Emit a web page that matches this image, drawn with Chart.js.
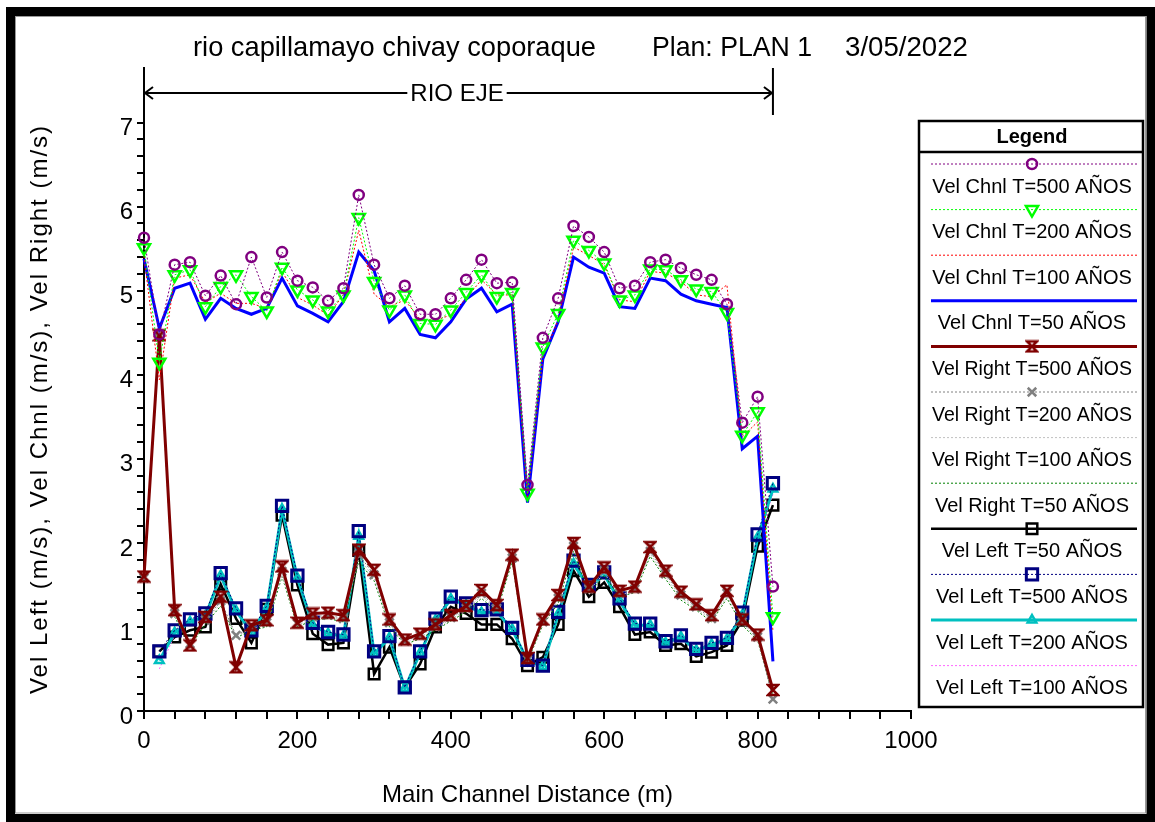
<!DOCTYPE html>
<html>
<head>
<meta charset="utf-8">
<title>Velocity profile</title>
<script src="https://cdn.jsdelivr.net/npm/chart.js"></script>
<style>
  html, body { margin: 0; padding: 0; background: #fff; }
  #wrap { width: 1155px; height: 822px; }
</style>
</head>
<body>
<div id="wrap"><canvas id="velChart" width="1155" height="822"></canvas></div>
<script>
// Main channel stations (m)
const stations = [0, 20, 40, 60, 80, 100, 120, 140, 160, 180, 200, 220, 240, 260, 280, 300, 320, 340, 360, 380, 400,
    420, 440, 460, 480, 500, 520, 540, 560, 580, 600, 620, 640, 660, 680, 700, 720, 740, 760, 780, 800, 820];

// Channel velocities (m/s)
const chnl500 = [5.63, 4.48, 5.31, 5.34, 4.94, 5.18, 4.84, 5.40, 4.92, 5.46, 5.12, 5.04, 4.88, 5.03, 6.14, 5.31, 4.91, 5.06, 4.72, 4.72, 4.91,
    5.13, 5.37, 5.09, 5.10, 2.69, 4.44, 4.91, 5.77, 5.64, 5.46, 5.03, 5.06, 5.34, 5.37, 5.27, 5.19, 5.13, 4.84, 3.43, 3.74, 1.48];
const chnl200 = [5.51, 4.15, 5.19, 5.25, 4.81, 5.05, 5.19, 4.93, 4.76, 5.28, 5.01, 4.89, 4.76, 4.95, 5.87, 5.11, 4.77, 4.95, 4.61, 4.60, 4.77,
    4.98, 5.19, 4.93, 4.98, 2.59, 4.33, 4.73, 5.60, 5.48, 5.33, 4.89, 4.95, 5.26, 5.25, 5.13, 5.02, 4.99, 4.74, 3.28, 3.56, 1.12];
const chnl100 = [5.41, 3.94, 5.15, 5.19, 4.86, 4.97, 4.85, 4.85, 4.79, 5.23, 4.92, 4.83, 4.71, 4.95, 5.72, 4.96, 4.81, 4.89, 4.66, 4.65, 4.71,
    4.91, 5.13, 4.95, 4.95, 2.55, 4.21, 4.65, 5.52, 5.42, 5.31, 4.89, 4.87, 5.23, 5.21, 5.11, 4.95, 4.93, 5.07, 3.26, 3.44, 0.95];
const chnl50 = [5.38, 4.55, 5.03, 5.09, 4.66, 4.91, 4.79, 4.72, 4.79, 5.15, 4.82, 4.73, 4.63, 4.87, 5.46, 5.24, 4.63, 4.79, 4.48, 4.44, 4.63,
    4.90, 5.03, 4.75, 4.84, 2.48, 4.19, 4.63, 5.40, 5.28, 5.21, 4.81, 4.79, 5.15, 5.12, 4.96, 4.88, 4.84, 4.80, 3.12, 3.27, 0.59];

// Right overbank velocities (m/s)
const right500 = [1.60, 4.47, 1.20, 0.78, 1.12, 1.36, 0.52, 1.02, 1.08, 1.72, 1.05, 1.16, 1.17, 1.14, 1.92, 1.68, 1.09, 0.85, 0.92, 1.03, 1.14,
    1.25, 1.44, 1.26, 1.86, 0.63, 1.09, 1.38, 2.00, 1.48, 1.71, 1.43, 1.48, 1.95, 1.67, 1.42, 1.27, 1.14, 1.43, 1.09, 0.91, 0.25];
const right200 = [1.58, 4.45, 1.16, 0.80, 1.08, 1.31, 0.90, 1.00, 1.05, 1.66, 1.04, 1.12, 1.14, 1.10, 1.86, 1.62, 1.05, 0.83, 0.90, 1.00, 1.11,
    1.22, 1.40, 1.22, 1.82, 0.61, 1.06, 1.34, 1.96, 1.45, 1.67, 1.40, 1.45, 1.90, 1.63, 1.38, 1.24, 1.10, 1.40, 1.06, 0.88, 0.14];
const right100 = [1.57, 4.43, 1.14, 0.79, 1.06, 1.28, 0.89, 0.98, 1.03, 1.62, 1.02, 1.10, 1.12, 1.08, 1.83, 1.58, 1.03, 0.81, 0.88, 0.98, 1.09,
    1.20, 1.37, 1.20, 1.80, 0.60, 1.04, 1.31, 1.93, 1.43, 1.64, 1.38, 1.43, 1.87, 1.60, 1.35, 1.22, 1.08, 1.37, 1.04, 0.86, 0.16];
const right50 = [1.55, 4.40, 1.12, 0.77, 1.03, 1.25, 0.87, 0.96, 1.00, 1.60, 1.00, 1.08, 1.10, 1.06, 1.78, 1.55, 1.00, 0.79, 0.86, 0.96, 1.07,
    1.18, 1.34, 1.18, 1.78, 0.59, 1.02, 1.28, 1.90, 1.40, 1.61, 1.36, 1.41, 1.84, 1.57, 1.32, 1.20, 1.06, 1.34, 1.02, 0.84, 0.18];

// Left overbank velocities (m/s)
const left50 = [null, 0.71, 0.88, 0.96, 1.00, 1.51, 1.10, 0.81, 1.21, 2.33, 1.50, 0.92, 0.79, 0.81, 1.91, 0.44, 0.76, 0.28, 0.56, 1.00, 1.24,
    1.16, 1.03, 1.03, 0.86, 0.54, 0.64, 1.03, 1.67, 1.36, 1.53, 1.24, 0.91, 0.94, 0.78, 0.80, 0.65, 0.70, 0.78, 1.08, 1.96, 2.45];
const left500 = [null, 0.71, 0.96, 1.09, 1.16, 1.64, 1.22, 0.96, 1.25, 2.44, 1.61, 1.05, 0.94, 0.91, 2.14, 0.71, 0.89, 0.28, 0.71, 1.10, 1.36,
    1.28, 1.20, 1.21, 0.99, 0.61, 0.54, 1.18, 1.79, 1.50, 1.65, 1.34, 1.04, 1.04, 0.83, 0.90, 0.74, 0.81, 0.87, 1.17, 2.10, 2.71];
const left200 = [null, 0.60, 0.93, 1.06, 1.13, 1.61, 1.19, 0.94, 1.22, 2.40, 1.58, 1.02, 0.92, 0.89, 2.08, 0.68, 0.87, 0.27, 0.69, 1.08, 1.33,
    1.26, 1.17, 1.18, 0.97, 0.60, 0.53, 1.15, 1.75, 1.47, 1.62, 1.31, 1.02, 1.02, 0.81, 0.88, 0.72, 0.79, 0.85, 1.14, 2.06, 2.64];
const left100 = [null, 0.50, 0.90, 1.04, 1.11, 1.58, 1.17, 0.92, 1.20, 2.37, 1.55, 1.00, 0.90, 0.87, 2.03, 0.66, 0.85, 0.27, 0.67, 1.06, 1.31,
    1.24, 1.15, 1.16, 0.95, 0.59, 0.53, 1.13, 1.72, 1.45, 1.60, 1.29, 1.00, 1.00, 0.80, 0.86, 0.70, 0.77, 0.83, 1.12, 2.03, 2.58];

const xTickLabels = [0, 200, 400, 600, 800, 1000];
const yTickLabels = [0, 1, 2, 3, 4, 5, 6, 7];

const FONT = "'Liberation Sans', Arial, sans-serif";

document.addEventListener('DOMContentLoaded', function() {
    createVelocityChart();
});

/**
 * Hourglass marker used by Vel Right T=500
 */
function hourglassMarker(color) {
    const c = document.createElement('canvas');
    c.width = 14;
    c.height = 14;
    const g = c.getContext('2d');
    g.strokeStyle = color;
    g.lineWidth = 2.5;
    g.lineJoin = 'miter';
    g.beginPath();
    g.moveTo(2, 2);
    g.lineTo(12, 2);
    g.lineTo(2, 12);
    g.lineTo(12, 12);
    g.closePath();
    g.stroke();
    return c;
}

function toPoints(values) {
    return stations.map(function(s, i) {
        return { x: s, y: values[i] };
    });
}

function series(label, values, color, width, dash, marker, order) {
    const ds = {
        label: label,
        data: toPoints(values),
        borderColor: color,
        backgroundColor: 'rgba(0,0,0,0)',
        borderWidth: width,
        borderDash: dash,
        tension: 0,
        clip: false,
        spanGaps: false,
        order: order || 0,
        pointRadius: 0,
        pointBorderColor: color,
        pointBackgroundColor: 'rgba(0,0,0,0)'
    };
    if (marker) {
        ds.pointStyle = marker.style;
        ds.pointRadius = marker.radius;
        ds.pointRotation = marker.rotation || 0;
        ds.pointBorderWidth = marker.width || 2.5;
    }
    return ds;
}

/**
 * Page frame, title, reach label, rotated y title and the boxed legend
 */
const decorPlugin = {
    id: 'decor',
    beforeDraw: function(chart) {
        const ctx = chart.ctx;
        ctx.save();
        ctx.fillStyle = '#fff';
        ctx.fillRect(0, 0, chart.width, chart.height);
        ctx.restore();
    },
    afterDraw: function(chart) {
        const ctx = chart.ctx;
        const area = chart.chartArea;
        const xs = chart.scales.x;
        ctx.save();

        // outer frame
        ctx.strokeStyle = '#000';
        ctx.lineWidth = 9;
        ctx.strokeRect(10.5, 11.5, 1140.5, 807);
        ctx.strokeStyle = '#999';
        ctx.lineWidth = 1;
        ctx.strokeRect(15.5, 16.5, 1130, 796.5);

        // title
        ctx.fillStyle = '#000';
        ctx.textBaseline = 'middle';
        ctx.textAlign = 'left';
        ctx.font = '28px ' + FONT;
        ctx.fillText('rio capillamayo chivay coporaque', 193, 48, 403);
        ctx.fillText('Plan: PLAN 1', 652, 48, 160);
        ctx.fillText('3/05/2022', 845, 48, 123);

        // reach bracket "RIO EJE"
        const xa = xs.getPixelForValue(0);
        const xb = xs.getPixelForValue(820);
        const yr = 93;
        ctx.strokeStyle = '#000';
        ctx.lineWidth = 2;
        ctx.beginPath();
        ctx.moveTo(xa, area.top);
        ctx.lineTo(xa, area.top + 34);
        ctx.moveTo(xb, area.top);
        ctx.lineTo(xb, area.top + 47);
        ctx.stroke();
        ctx.font = '24px ' + FONT;
        ctx.textAlign = 'center';
        const tw = ctx.measureText('RIO EJE').width;
        ctx.fillText('RIO EJE', 457, yr + 1);
        ctx.beginPath();
        ctx.moveTo(xa + 1, yr);
        ctx.lineTo(457 - tw / 2 - 3, yr);
        ctx.moveTo(457 + tw / 2 + 3, yr);
        ctx.lineTo(xb - 1, yr);
        ctx.moveTo(xa + 9, yr - 6);
        ctx.lineTo(xa + 1, yr);
        ctx.lineTo(xa + 9, yr + 6);
        ctx.moveTo(xb - 9, yr - 6);
        ctx.lineTo(xb - 1, yr);
        ctx.lineTo(xb - 9, yr + 6);
        ctx.stroke();

        // y axis title
        ctx.save();
        ctx.translate(40, 409);
        ctx.rotate(-Math.PI / 2);
        ctx.font = '24px ' + FONT;
        ctx.textAlign = 'center';
        if ('letterSpacing' in ctx) ctx.letterSpacing = '2px';
        ctx.fillText('Vel Left (m/s), Vel Chnl (m/s), Vel Right (m/s)', 0, 0);
        ctx.restore();

        drawLegendBox(chart);
        ctx.restore();
    }
};

function drawLegendBox(chart) {
    const ctx = chart.ctx;
    const left = 919, top = 121, right = 1143, bottom = 707;
    const cx = 1032;
    ctx.save();
    ctx.fillStyle = '#fff';
    ctx.fillRect(left, top, right - left, bottom - top);
    ctx.strokeStyle = '#000';
    ctx.lineWidth = 2.5;
    ctx.strokeRect(left, top, right - left, bottom - top);
    ctx.beginPath();
    ctx.moveTo(left, 152);
    ctx.lineTo(right, 152);
    ctx.stroke();

    ctx.fillStyle = '#000';
    ctx.textAlign = 'center';
    ctx.textBaseline = 'middle';
    ctx.font = 'bold 20px ' + FONT;
    ctx.fillText('Legend', cx, 137);

    chart.data.datasets.forEach(function(ds, i) {
        const ly = 164 + i * 45.6;
        ctx.save();
        ctx.strokeStyle = ds.borderColor;
        ctx.lineWidth = ds.borderWidth;
        ctx.setLineDash(ds.borderDash || []);
        ctx.beginPath();
        ctx.moveTo(931, ly);
        ctx.lineTo(1137, ly);
        ctx.stroke();
        ctx.restore();
        if (ds.pointRadius > 0 && Chart.helpers && Chart.helpers.drawPoint) {
            ctx.save();
            ctx.strokeStyle = ds.pointBorderColor;
            ctx.fillStyle = 'rgba(0,0,0,0)';
            ctx.lineWidth = ds.pointBorderWidth;
            Chart.helpers.drawPoint(ctx, {
                pointStyle: ds.pointStyle,
                radius: ds.pointRadius,
                rotation: ds.pointRotation,
                borderWidth: ds.pointBorderWidth
            }, cx, ly);
            ctx.restore();
        }
        ctx.fillStyle = '#000';
        ctx.font = '20px ' + FONT;
        ctx.fillText(ds.label, cx, ly + 23, 200);
    });
    ctx.restore();
}

function createVelocityChart() {
    const ctx = document.getElementById('velChart');
    if (!ctx) return;

    const dotted = [2, 2];
    const datasets = [
        series('Vel Chnl T=500 AÑOS', chnl500, '#800080', 1, dotted, { style: 'circle', radius: 5 }),
        series('Vel Chnl T=200 AÑOS', chnl200, '#00ff00', 1, dotted, { style: 'triangle', radius: 7, rotation: 180 }),
        series('Vel Chnl T=100 AÑOS', chnl100, '#ff0000', 1, dotted, null),
        series('Vel Chnl T=50 AÑOS', chnl50, '#0000ff', 3, [], null),
        series('Vel Right T=500 AÑOS', right500, '#800000', 3, [], { style: hourglassMarker('#800000'), radius: 7 }),
        series('Vel Right T=200 AÑOS', right200, '#808080', 1, dotted, { style: 'crossRot', radius: 6 }),
        series('Vel Right T=100 AÑOS', right100, '#c0c0c0', 1, dotted, null),
        series('Vel Right T=50 AÑOS', right50, '#008000', 1, dotted, null),
        series('Vel Left T=50 AÑOS', left50, '#000000', 2.5, [], { style: 'rect', radius: 7.5 }, 1),
        series('Vel Left T=500 AÑOS', left500, '#000080', 1, dotted, { style: 'rect', radius: 8, width: 3 }),
        series('Vel Left T=200 AÑOS', left200, '#00c0c0', 3, [], { style: 'triangle', radius: 5 }),
        series('Vel Left T=100 AÑOS', left100, '#ff66ff', 1, dotted, null)
    ];

    const velChart = new Chart(ctx, {
        type: 'line',
        data: { datasets: datasets },
        options: {
            responsive: false,
            animation: false,
            events: [],
            layout: {
                padding: { left: 0, right: 244, top: 68, bottom: 0 }
            },
            plugins: {
                legend: { display: false },
                tooltip: { enabled: false }
            },
            scales: {
                x: {
                    type: 'linear',
                    min: 0,
                    max: 1000,
                    afterFit: function(scale) { scale.height = 111; },
                    ticks: {
                        stepSize: 40,
                        autoSkip: false,
                        maxRotation: 0,
                        color: '#000',
                        padding: 8,
                        font: { size: 24, family: FONT },
                        callback: function(value) {
                            return xTickLabels.indexOf(value) >= 0 ? String(value) : '';
                        }
                    },
                    grid: {
                        drawOnChartArea: false,
                        drawTicks: true,
                        tickLength: 8,
                        color: '#000',
                        lineWidth: 2
                    },
                    border: { color: '#000', width: 2 },
                    title: {
                        display: true,
                        text: 'Main Channel Distance (m)',
                        color: '#000',
                        font: { size: 24, family: FONT },
                        padding: { top: 0, bottom: 12 }
                    }
                },
                y: {
                    type: 'linear',
                    min: 0,
                    max: 7.65,
                    afterFit: function(scale) { scale.width = 144; },
                    afterBuildTicks: function(scale) {
                        scale.ticks = scale.ticks.filter(function(t) { return t.value <= 7.0001; });
                    },
                    ticks: {
                        stepSize: 0.2,
                        autoSkip: false,
                        color: '#000',
                        padding: 4,
                        labelOffset: 6,
                        font: { size: 24, family: FONT },
                        callback: function(value) {
                            const r = Math.round(value);
                            return (Math.abs(value - r) < 1e-6 && yTickLabels.indexOf(r) >= 0) ? String(r) : '';
                        }
                    },
                    grid: {
                        drawOnChartArea: false,
                        drawTicks: true,
                        tickLength: 7,
                        color: '#000',
                        lineWidth: 2
                    },
                    border: { color: '#000', width: 2 }
                }
            }
        },
        plugins: [decorPlugin]
    });

    return velChart;
}
</script>
</body>
</html>
